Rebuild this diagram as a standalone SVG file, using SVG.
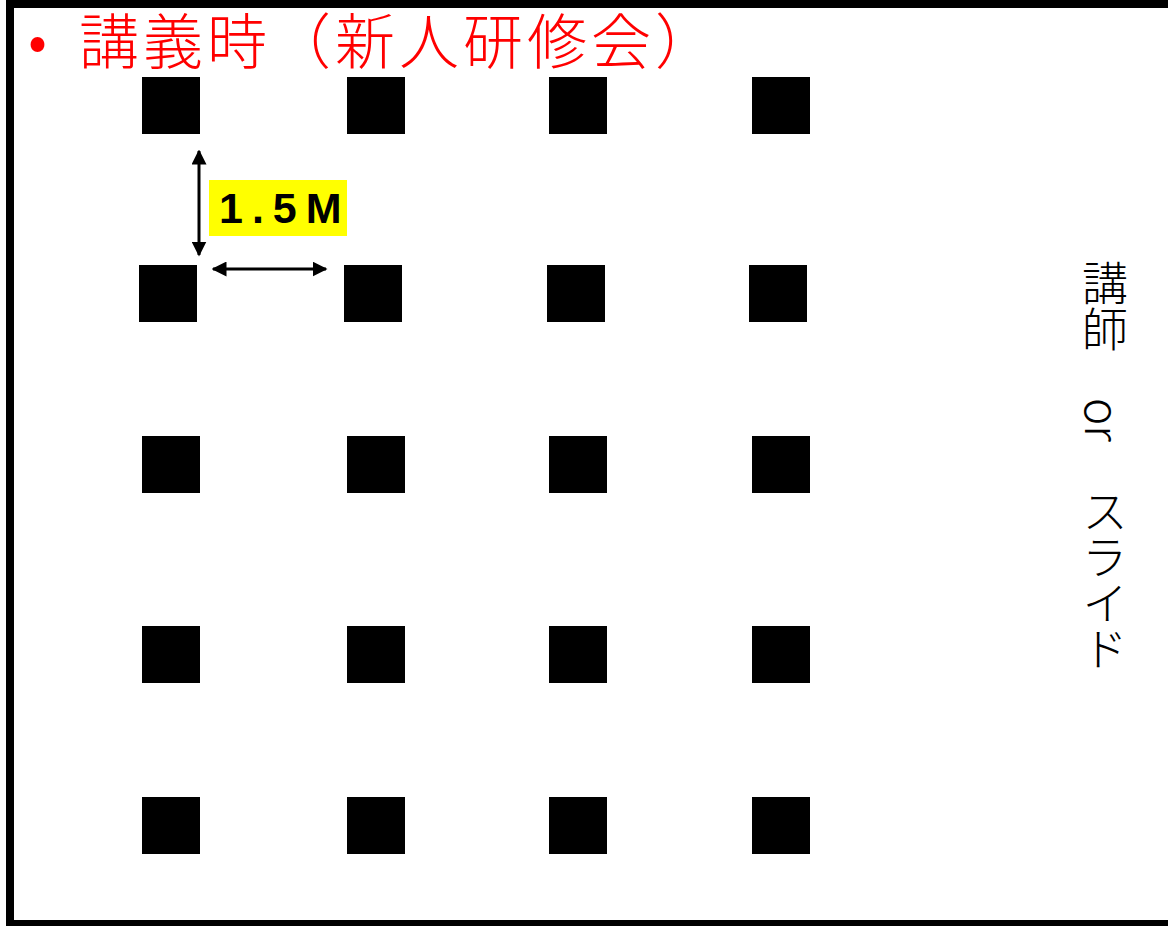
<svg xmlns="http://www.w3.org/2000/svg" width="1168" height="926" viewBox="0 0 1168 926">
<style>
.seat{fill:#000}
.title{font-family:"Noto Sans CJK JP","Noto Sans",sans-serif;font-size:60px;font-weight:300;fill:#ff0000}
.vert{font-family:"Noto Sans CJK JP",sans-serif;font-size:46px;font-weight:300;fill:#000;writing-mode:vertical-rl}
.dim{stroke:#000;stroke-width:3;fill:none}
.lbl{font-family:"Liberation Sans",Arial,sans-serif;font-weight:bold;font-size:43px;fill:#000;letter-spacing:9px}
</style>
<defs>
<marker id="ah" viewBox="0 0 10 10" refX="9" refY="5" markerWidth="5" markerHeight="5" orient="auto-start-reverse" markerUnits="strokeWidth">
<path d="M0,0 L10,5 L0,10 z" fill="#000"/>
</marker>
</defs>
<rect x="0" y="0" width="1168" height="926" fill="#fff"/>
<rect id="room" x="10" y="4" width="1170" height="920" fill="none" stroke="#000" stroke-width="8"/>
<g id="title">
<text x="28" y="62" class="title">•</text>
<text x="79" y="64" class="title" letter-spacing="4">講義時（新人研修会）</text>
</g>
<g id="seats">
<rect class="seat" x="142" y="77" width="58" height="57"/>
<rect class="seat" x="347" y="77" width="58" height="57"/>
<rect class="seat" x="549" y="77" width="58" height="57"/>
<rect class="seat" x="752" y="77" width="58" height="57"/>
<rect class="seat" x="139" y="265" width="58" height="57"/>
<rect class="seat" x="344" y="265" width="58" height="57"/>
<rect class="seat" x="547" y="265" width="58" height="57"/>
<rect class="seat" x="749" y="265" width="58" height="57"/>
<rect class="seat" x="142" y="436" width="58" height="57"/>
<rect class="seat" x="347" y="436" width="58" height="57"/>
<rect class="seat" x="549" y="436" width="58" height="57"/>
<rect class="seat" x="752" y="436" width="58" height="57"/>
<rect class="seat" x="142" y="626" width="58" height="57"/>
<rect class="seat" x="347" y="626" width="58" height="57"/>
<rect class="seat" x="549" y="626" width="58" height="57"/>
<rect class="seat" x="752" y="626" width="58" height="57"/>
<rect class="seat" x="142" y="797" width="58" height="57"/>
<rect class="seat" x="347" y="797" width="58" height="57"/>
<rect class="seat" x="549" y="797" width="58" height="57"/>
<rect class="seat" x="752" y="797" width="58" height="57"/>
</g>
<g id="connectors">
<line class="dim" x1="199" y1="151" x2="199" y2="255" marker-start="url(#ah)" marker-end="url(#ah)"/>
<line class="dim" x1="213" y1="269" x2="326" y2="269" marker-start="url(#ah)" marker-end="url(#ah)"/>
</g>
<g id="label">
<rect x="209" y="180" width="138" height="56" fill="#ffff00"/>
<text x="219" y="223" class="lbl">1.5M</text>
</g>
<g id="speaker">
<text x="1105" y="260" class="vert">講師　or　スライド</text>
</g>
</svg>
